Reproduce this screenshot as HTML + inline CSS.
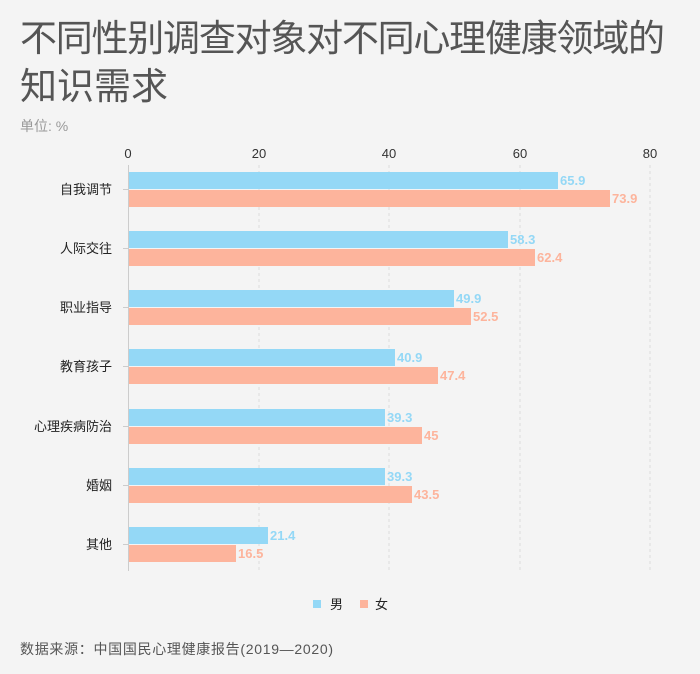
<!DOCTYPE html>
<html><head><meta charset="utf-8"><style>
body{margin:0;background:#f4f4f4;}
svg{display:block;font-family:"Liberation Sans","Noto Sans CJK SC",sans-serif;}
</style></head><body>
<svg width="700" height="674" viewBox="0 0 700 674">
<rect width="700" height="674" fill="#f4f4f4"/>
<text x="20" y="51" font-size="37" fill="#555" textLength="645" lengthAdjust="spacing">不同性别调查对象对不同心理健康领域的</text>
<text x="20" y="99" font-size="37" fill="#555" textLength="148" lengthAdjust="spacing">知识需求</text>
<text x="20" y="131" font-size="14" fill="#999">单位: %</text>
<g stroke="#ddd" stroke-dasharray="3,3">
<line x1="259" y1="165" x2="259" y2="571"/><line x1="389" y1="165" x2="389" y2="571"/>
<line x1="520" y1="165" x2="520" y2="571"/><line x1="650" y1="165" x2="650" y2="571"/>
</g>
<g font-size="13" fill="#333" text-anchor="middle">
<text x="128" y="158">0</text><text x="259" y="158">20</text><text x="389" y="158">40</text><text x="520" y="158">60</text><text x="650" y="158">80</text>
</g>
<line x1="128.5" y1="165" x2="128.5" y2="571" stroke="#ccc"/>
<g font-size="13" fill="#222" text-anchor="end">
<text x="112" y="194">自我调节</text>
<text x="112" y="253">人际交往</text>
<text x="112" y="312">职业指导</text>
<text x="112" y="371">教育孩子</text>
<text x="112" y="431">心理疾病防治</text>
<text x="112" y="490">婚姻</text>
<text x="112" y="549">其他</text>
</g>
<g stroke="#ccc">
<line x1="123" y1="189.5" x2="128" y2="189.5"/><line x1="123" y1="248.5" x2="128" y2="248.5"/>
<line x1="123" y1="307.5" x2="128" y2="307.5"/><line x1="123" y1="366.5" x2="128" y2="366.5"/>
<line x1="123" y1="426.5" x2="128" y2="426.5"/><line x1="123" y1="485.5" x2="128" y2="485.5"/>
<line x1="123" y1="544.5" x2="128" y2="544.5"/>
</g>
<g font-size="13" font-weight="bold">
<rect x="129" y="172" width="429" height="17" fill="#94d8f6"/><text x="560" y="185" fill="#94d8f6">65.9</text>
<rect x="129" y="190" width="481" height="17" fill="#fdb49c"/><text x="612" y="203" fill="#fdb49c">73.9</text>
<rect x="129" y="231" width="379" height="17" fill="#94d8f6"/><text x="510" y="244" fill="#94d8f6">58.3</text>
<rect x="129" y="249" width="406" height="17" fill="#fdb49c"/><text x="537" y="262" fill="#fdb49c">62.4</text>
<rect x="129" y="290" width="325" height="17" fill="#94d8f6"/><text x="456" y="303" fill="#94d8f6">49.9</text>
<rect x="129" y="308" width="342" height="17" fill="#fdb49c"/><text x="473" y="321" fill="#fdb49c">52.5</text>
<rect x="129" y="349" width="266" height="17" fill="#94d8f6"/><text x="397" y="362" fill="#94d8f6">40.9</text>
<rect x="129" y="367" width="309" height="17" fill="#fdb49c"/><text x="440" y="380" fill="#fdb49c">47.4</text>
<rect x="129" y="409" width="256" height="17" fill="#94d8f6"/><text x="387" y="422" fill="#94d8f6">39.3</text>
<rect x="129" y="427" width="293" height="17" fill="#fdb49c"/><text x="424" y="440" fill="#fdb49c">45</text>
<rect x="129" y="468" width="256" height="17" fill="#94d8f6"/><text x="387" y="481" fill="#94d8f6">39.3</text>
<rect x="129" y="486" width="283" height="17" fill="#fdb49c"/><text x="414" y="499" fill="#fdb49c">43.5</text>
<rect x="129" y="527" width="139" height="17" fill="#94d8f6"/><text x="270" y="540" fill="#94d8f6">21.4</text>
<rect x="129" y="545" width="107" height="17" fill="#fdb49c"/><text x="238" y="558" fill="#fdb49c">16.5</text>
</g>
<rect x="313" y="600" width="8" height="8" fill="#94d8f6"/>
<text x="330" y="609" font-size="13" fill="#222">男</text>
<rect x="360" y="600" width="8" height="8" fill="#fdb49c"/>
<text x="375" y="609" font-size="13" fill="#222">女</text>
<text x="20" y="654" font-size="14" fill="#555" textLength="313" lengthAdjust="spacing">数据来源：中国国民心理健康报告(2019—2020)</text>
</svg>
</body></html>
